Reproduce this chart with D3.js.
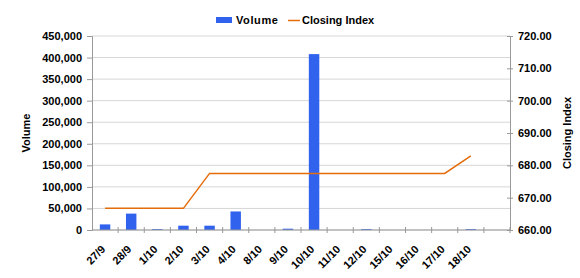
<!DOCTYPE html>
<html>
<head>
<meta charset="utf-8">
<script src="https://cdn.jsdelivr.net/npm/d3@7"></script>
<style>
  body { margin: 0; background: #fff; }
  text { font-family: "Liberation Sans", Arial, sans-serif; font-weight: bold; fill: #000; }
</style>
</head>
<body>
<div id="chart"></div>
<script>
const categories = ['27/9', '28/9', '1/10', '2/10', '3/10', '4/10', '8/10', '9/10', '10/10', '11/10', '12/10', '15/10', '16/10', '17/10', '18/10'];
const volume = [13000, 38000, 2000, 10000, 10000, 43000, 0, 3000, 408000, 0, 2000, 0, 0, 0, 2000];
const closingIndex = [666.7, 666.7, 666.7, 666.7, 677.5, 677.5, 677.5, 677.5, 677.5, 677.5, 677.5, 677.5, 677.5, 677.5, 682.9];
const volumeTicks = [0, 50000, 100000, 150000, 200000, 250000, 300000, 350000, 400000, 450000];
const indexTicks = [660, 670, 680, 690, 700, 710, 720];

const width = 580;
const height = 278;
const margin = { top: 36, right: 70, bottom: 48, left: 92 };
const innerW = width - margin.left - margin.right;
const innerH = height - margin.top - margin.bottom;

const svg = d3.select('#chart').append('svg')
  .attr('width', width)
  .attr('height', height);

// one empty slot after the last date, like the original
const x = d3.scaleBand()
  .domain(categories.concat(['']))
  .range([0, innerW]);

const yVol = d3.scaleLinear().domain([0, 450000]).range([innerH, 0]);
const yIdx = d3.scaleLinear().domain([660, 720]).range([innerH, 0]);

const g = svg.append('g')
  .attr('transform', `translate(${margin.left},${margin.top})`);

// gridlines
g.append('g')
  .selectAll('line')
  .data(volumeTicks)
  .enter().append('line')
  .attr('x1', 0)
  .attr('x2', innerW)
  .attr('y1', (d) => yVol(d))
  .attr('y2', (d) => yVol(d))
  .style('stroke', '#d6d6d6')
  .style('stroke-width', 1);

// bars
const barW = x.bandwidth() * 0.4;
g.selectAll('.bar')
  .data(volume)
  .enter().append('rect')
  .attr('class', 'bar')
  .attr('x', (d, i) => x(categories[i]) + (x.bandwidth() - barW) / 2)
  .attr('width', barW)
  .attr('y', (d) => yVol(d))
  .attr('height', (d) => innerH - yVol(d))
  .style('fill', '#3062ee');

// closing index line
const line = d3.line()
  .x((d, i) => x(categories[i]) + x.bandwidth() / 2)
  .y((d) => yIdx(d));

g.append('path')
  .datum(closingIndex)
  .attr('d', line)
  .style('fill', 'none')
  .style('stroke', '#e46c0a')
  .style('stroke-width', 1.5);

// left axis
const leftAxis = g.append('g')
  .call(d3.axisLeft(yVol).tickValues(volumeTicks).tickFormat(d3.format(',')).tickSize(5).tickPadding(5));
leftAxis.select('.domain').style('stroke', '#999');
leftAxis.selectAll('.tick line').style('stroke', '#999');
leftAxis.selectAll('text').style('font-size', '11px').style('fill', '#000');

// right axis
const rightAxis = g.append('g')
  .attr('transform', `translate(${innerW},0)`)
  .call(d3.axisRight(yIdx).tickValues(indexTicks).tickFormat(d3.format('.2f')).tickSize(0).tickPadding(8));
rightAxis.select('.domain').style('stroke', '#999');
rightAxis.selectAll('text').style('font-size', '11px').style('fill', '#000');
rightAxis.selectAll('.tick').append('line')
  .attr('x1', -3)
  .attr('x2', 3)
  .style('stroke', '#999');

// bottom axis with ticks between categories
const bottom = g.append('g')
  .attr('transform', `translate(0,${innerH})`);
bottom.append('line')
  .attr('x1', 0)
  .attr('x2', innerW)
  .style('stroke', '#999');
bottom.selectAll('.sep')
  .data(x.domain().slice(1).concat(['end']))
  .enter().append('line')
  .attr('class', 'sep')
  .attr('x1', (d) => (d === 'end' ? innerW : x(d)))
  .attr('x2', (d) => (d === 'end' ? innerW : x(d)))
  .attr('y1', -3)
  .attr('y2', 3)
  .style('stroke', '#999');
bottom.selectAll('.lbl')
  .data(categories)
  .enter().append('text')
  .attr('class', 'lbl')
  .attr('text-anchor', 'end')
  .attr('transform', (d) => `translate(${x(d) + x.bandwidth() / 2 + 1},${20}) rotate(-45)`)
  .style('font-size', '11px')
  .text((d) => d);

// axis titles
svg.append('text')
  .attr('transform', `translate(${30},${margin.top + innerH / 2}) rotate(-90)`)
  .attr('text-anchor', 'middle')
  .style('font-size', '11px')
  .text('Volume');

svg.append('text')
  .attr('transform', `translate(${571},${margin.top + innerH / 2}) rotate(-90)`)
  .attr('text-anchor', 'middle')
  .style('font-size', '11px')
  .text('Closing Index');

// legend
const legend = svg.append('g');
legend.append('rect')
  .attr('x', 216)
  .attr('y', 17)
  .attr('width', 16)
  .attr('height', 6)
  .style('fill', '#3062ee');
legend.append('text')
  .attr('x', 236)
  .attr('y', 24)
  .style('font-size', '11px')
  .style('letter-spacing', '0.6px')
  .text('Volume');
legend.append('line')
  .attr('x1', 288)
  .attr('x2', 300)
  .attr('y1', 20.5)
  .attr('y2', 20.5)
  .style('stroke', '#e46c0a')
  .style('stroke-width', 1.5);
legend.append('text')
  .attr('x', 302)
  .attr('y', 24)
  .style('font-size', '11px')
  .text('Closing Index');
</script>
</body>
</html>
